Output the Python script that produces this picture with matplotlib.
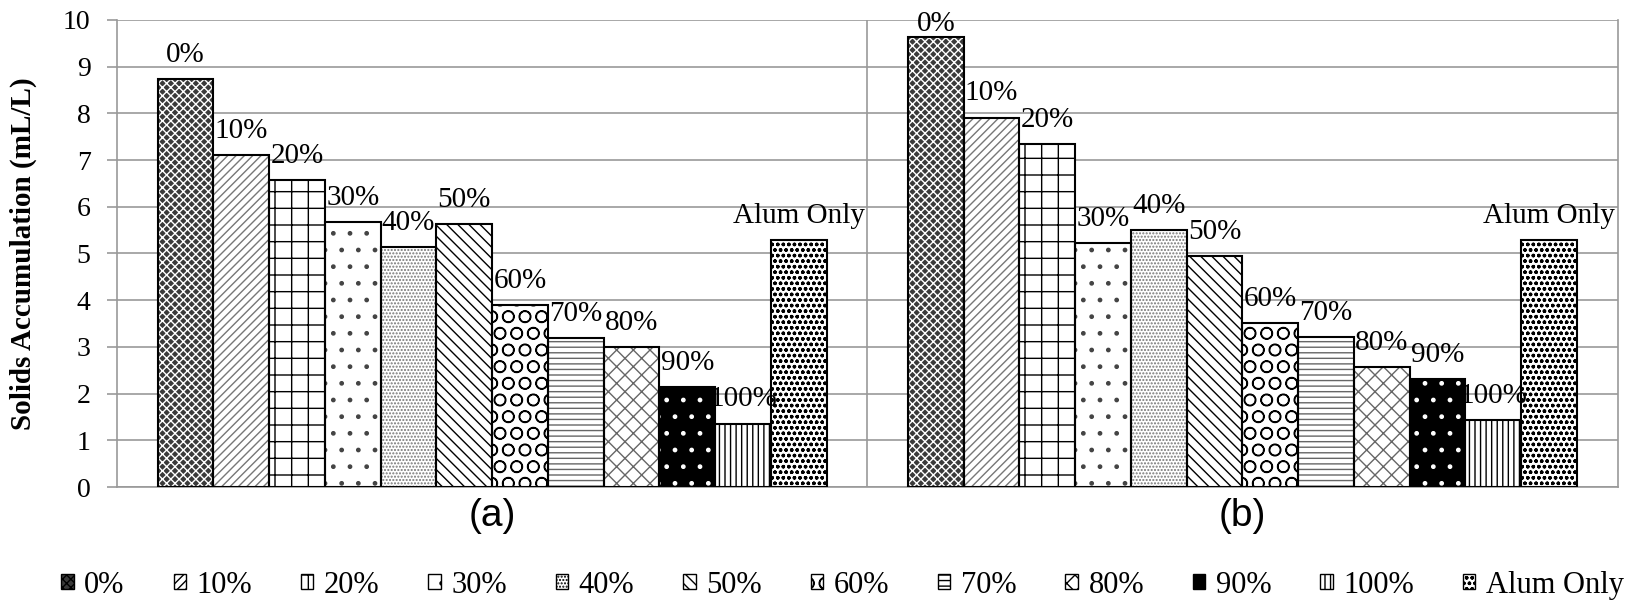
import numpy as np
import matplotlib.pyplot as plt

plt.rcParams['font.family'] = ['Liberation Serif', 'DejaVu Serif']
plt.rcParams['hatch.linewidth'] = 1.0

groups = ['(a)', '(b)']
series = ['0%', '10%', '20%', '30%', '40%', '50%', '60%', '70%', '80%', '90%', '100%', 'Alum Only']
vals_a = [8.73, 7.10, 6.58, 5.67, 5.13, 5.63, 3.90, 3.19, 3.00, 2.14, 1.36, 5.29]
vals_b = [9.63, 7.91, 7.34, 5.22, 5.50, 4.94, 3.51, 3.22, 2.56, 2.31, 1.44, 5.29]

# (face, hatch, hatch colour) for every series
styles = [
    ('#3a3a3a', 'xxxx', 'white'),
    ('white', '////', '#777777'),
    ('white', '+', 'black'),
    ('white', '.', '#444444'),
    ('white', '.....', '#777777'),
    ('white', '\\\\\\', 'black'),
    ('white', 'O', 'black'),
    ('white', '---', '#666666'),
    ('white', 'xx', '#666666'),
    ('black', '.', 'white'),
    ('white', '|||', 'black'),
    ('white', 'ooo', 'black'),
]

fig = plt.figure(figsize=(16.33, 6.05), dpi=100)
ax = fig.add_axes([0.0716, 0.195, 0.919, 0.772])

n = len(series)
gap = 1.46
w = 1.0 / (n + gap)
x = np.arange(len(groups))
data = np.array([vals_a, vals_b])

handles = []
for i, s in enumerate(series):
    pos = x - 0.5 + (gap / 2 + i + 0.5) * w
    face, hatch, hc = styles[i]
    ax.bar(pos, data[:, i], w, color=face, hatch=hatch, edgecolor=hc, linewidth=0, zorder=3)
    ax.bar(pos, data[:, i], w, fill=False, edgecolor='black', linewidth=1.5, zorder=4)
    for xp, v in zip(pos, data[:, i]):
        # labels near the top get pushed down to stay inside the chart, like Excel does
        off = 8 if v < 9.3 else 0
        ax.annotate(s, (xp, v), xytext=(0, off), textcoords='offset points',
                    ha='center', va='bottom', fontsize=21, clip_on=False, zorder=5)
    h = plt.Rectangle((0, 0), 1, 1, facecolor=face, hatch=hatch, edgecolor='black', linewidth=1)
    handles.append(h)

ax.set_xlim(-0.5, 1.5)
ax.set_ylim(0, 10)
ax.set_yticks(range(0, 11))
ax.tick_params(axis='y', labelsize=20, length=7, color='#999999', width=1.2, pad=12)
ax.set_xticks(x)
ax.set_xticklabels(groups, fontsize=28, family=['Liberation Sans', 'DejaVu Sans'])
ax.tick_params(axis='x', length=0, pad=8)
ax.set_ylabel('Solids Accumulation (mL/L)', fontsize=21, fontweight='bold')
ax.yaxis.set_label_coords(-0.053, 0.5)

ax.grid(axis='y', color='#999999', linewidth=1.2, zorder=0)
ax.axvline(0.5, color='#999999', linewidth=1.2, zorder=0)
ax.spines['top'].set_visible(False)
for sp in ['left', 'right', 'bottom']:
    ax.spines[sp].set_color('#999999')
    ax.spines[sp].set_linewidth(1.2)

fig.legend(handles, series, loc='center', bbox_to_anchor=(0.516, 0.033), ncol=n,
           frameon=False, fontsize=22, handlelength=0.4, handleheight=0.4,
           handletextpad=0.35, columnspacing=1.6, borderpad=0)

fig.savefig('out.png', dpi=100)
